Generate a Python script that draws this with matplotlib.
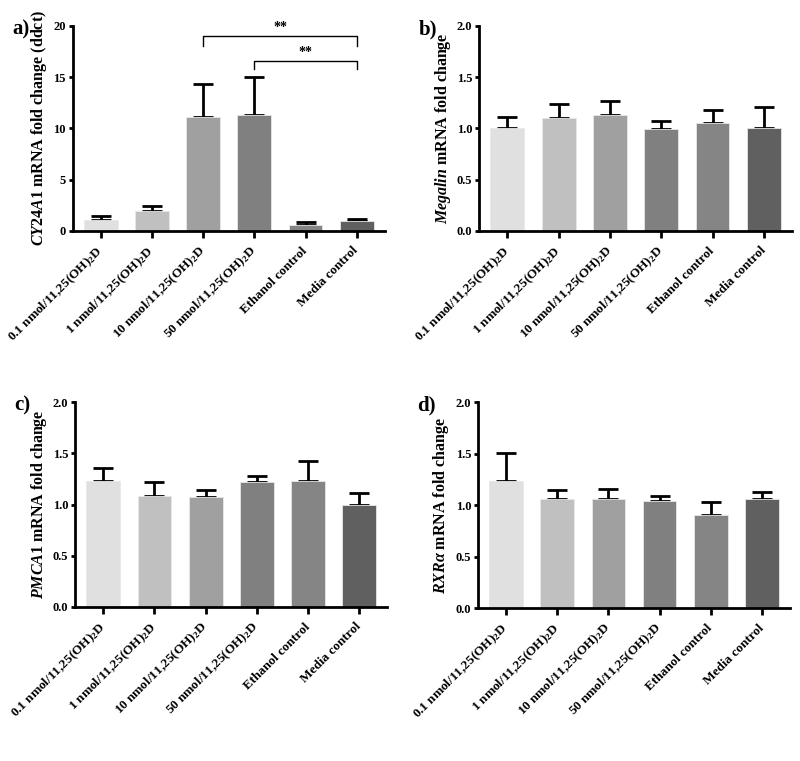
import numpy as np
import matplotlib
matplotlib.use("Agg")
import matplotlib.pyplot as plt

# treatment groups and bar colours
groups = ["0.1 nmol/11,25(OH)$_2$D", "1 nmol/11,25(OH)$_2$D",
          "10 nmol/11,25(OH)$_2$D", "50 nmol/11,25(OH)$_2$D",
          "Ethanol control", "Media control"]
colors = ["#e0e0e0", "#c0c0c0", "#a0a0a0", "#808080", "#858585", "#606060"]

# mean fold change and upper error (absolute top of error bar)
cyp_mean = [1.04, 1.95, 11.15, 11.35, 0.62, 0.93]
cyp_top = [1.45, 2.48, 14.35, 15.0, 0.87, 1.15]
megalin_mean = [1.0, 1.10, 1.135, 0.995, 1.05, 1.0]
megalin_top = [1.115, 1.24, 1.27, 1.075, 1.175, 1.205]
pmca_mean = [1.23, 1.085, 1.075, 1.215, 1.23, 1.0]
pmca_top = [1.355, 1.22, 1.145, 1.275, 1.425, 1.11]
rxr_mean = [1.23, 1.06, 1.055, 1.035, 0.9, 1.055]
rxr_top = [1.505, 1.145, 1.16, 1.09, 1.025, 1.125]

plt.rcParams["font.family"] = ["Liberation Serif", "DejaVu Serif"]
plt.rcParams["font.weight"] = "bold"
plt.rcParams["mathtext.fontset"] = "custom"
plt.rcParams["mathtext.rm"] = "Liberation Serif:bold"
plt.rcParams["mathtext.it"] = "Liberation Serif:italic:bold"
plt.rcParams["mathtext.bf"] = "Liberation Serif:bold"

fig = plt.figure(figsize=(8, 7.61), dpi=100)


def yticks_fmt(ticks):
    if max(ticks) > 5:
        return ["%d" % t for t in ticks]
    return ["%.1f" % t for t in ticks]


def panel(rect, means, tops, ylim, yticks, ylabel, letter):
    ax = fig.add_axes(rect)
    x = np.arange(len(means))
    means = np.array(means)
    errs = np.array(tops) - means
    ax.bar(x, means, width=0.66, color=colors, edgecolor="#e8e8e8",
           linewidth=0.6, zorder=2)
    ax.errorbar(x, means, yerr=[np.zeros_like(errs), errs], fmt="none",
                ecolor="black", elinewidth=2, capsize=7, capthick=2, zorder=1)
    ax.set_xlim(-0.55, 5.55)
    ax.set_ylim(*ylim)
    ax.set_yticks(yticks)
    ax.set_yticklabels(yticks_fmt(yticks), fontsize=9, fontweight="bold")
    ax.set_xticks(x)
    ax.set_xticklabels(groups, rotation=45, ha="right", va="center",
                       rotation_mode="anchor", fontsize=9.5, fontweight="bold")
    ax.tick_params(axis="x", length=5, width=2, pad=8)
    ax.tick_params(axis="y", length=3, width=2, pad=2)
    for s in ["top", "right"]:
        ax.spines[s].set_visible(False)
    for s in ["left", "bottom"]:
        ax.spines[s].set_linewidth(2)
    ax.set_ylabel(ylabel, fontsize=11.5, fontweight="bold", labelpad=3)
    fig.text(rect[0] - 0.076, rect[1] + rect[3] - 0.005, letter,
             fontsize=15, fontweight="bold", va="center")
    return ax


ax_a = panel([0.091, 0.6965, 0.39, 0.2695], cyp_mean, cyp_top, (0, 20),
             [0, 5, 10, 15, 20], r"$\mathit{CY24A1}$ mRNA fold change (ddct)", "a)")
ax_b = panel([0.599, 0.6965, 0.391, 0.2695], megalin_mean, megalin_top, (0, 2),
             [0, 0.5, 1.0, 1.5, 2.0], r"$\mathit{Megalin}$ mRNA fold change", "b)")
ax_c = panel([0.094, 0.2024, 0.39, 0.2693], pmca_mean, pmca_top, (0, 2),
             [0, 0.5, 1.0, 1.5, 2.0], r"$\mathit{PMCA1}$ mRNA fold change", "c)")
ax_d = panel([0.5975, 0.201, 0.39, 0.2707], rxr_mean, rxr_top, (0, 2),
             [0, 0.5, 1.0, 1.5, 2.0], r"$\mathit{RXR\alpha}$ mRNA fold change", "d)")

# significance brackets in panel a
for x0, x1, y, y_drop in [(2, 5, 19.05, 18.0), (3, 5, 16.6, 15.8)]:
    ax_a.plot([x0, x0, x1, x1], [y_drop, y, y, y_drop], color="black",
              linewidth=1, clip_on=False)
    ax_a.text((x0 + x1) / 2, y + 0.15, "**", ha="center", va="bottom",
              fontsize=10, fontweight="bold")

fig.savefig("out.png", dpi=100)
